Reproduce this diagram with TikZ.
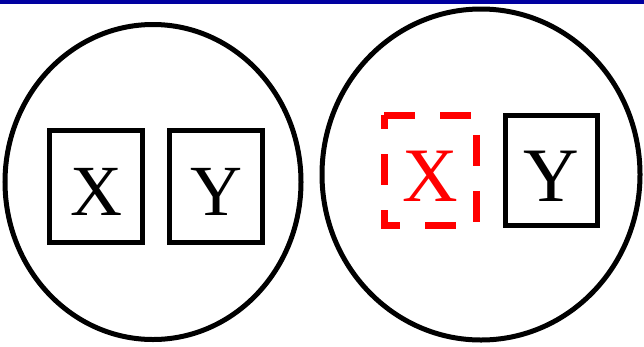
\documentclass[tikz,border=0pt]{standalone}
\usepackage{fontspec}
\setmainfont{Liberation Serif}
\usetikzlibrary{shapes.geometric}
\definecolor{topblue}{RGB}{0,0,160}
\tikzset{
  ring/.style={draw=black, line width=5pt, ellipse, inner sep=0pt},
  boxL/.style={draw=black, line width=5pt, rectangle, inner sep=0pt,
    minimum width=93pt, minimum height=112pt,
    font=\fontsize{72}{72}\selectfont, text height=58pt, text depth=0pt},
  boxR/.style={rectangle, inner sep=0pt,
    minimum width=92pt, minimum height=110pt,
    font=\fontsize{77}{77}\selectfont, text height=61pt, text depth=0pt},
  redbox/.style={draw=red, line width=6.5pt, dash pattern=on 31pt off 25pt},
}
\begin{document}
\begin{tikzpicture}[x=1pt,y=-1pt]
\useasboundingbox (0,0) rectangle (644,346);
\fill[white] (0,0) rectangle (644,346);
\fill[topblue] (0,0) rectangle (644,3.5);
% left group
\node[ring, minimum width=296pt, minimum height=315pt] (c1) at (153,182) {};
\node[boxL] (x1) at (96,186) {X};
\node[boxL] (y1) at (216,186) {Y};
% right group
\node[ring, minimum width=318pt, minimum height=331pt] (c2) at (481,174.5) {};
\node[boxR, text=red] (x2) at (430.5,170.5) {X};
\draw[redbox] (x2.north west) -- (x2.north east) -- (x2.south east) -- (x2.south west) -- cycle;
\node[boxR, draw=black, line width=5pt] (y2) at (551.5,170.5) {Y};
\end{tikzpicture}
\end{document}
